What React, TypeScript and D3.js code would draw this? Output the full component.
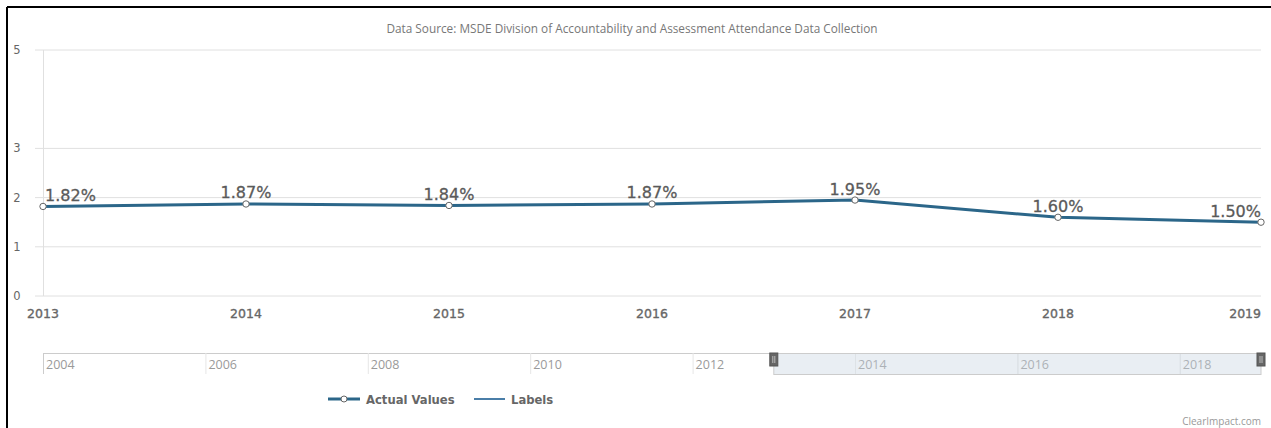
import React from "react";
import * as d3 from "d3";

const years = [2013, 2014, 2015, 2016, 2017, 2018, 2019];
const values = [1.82, 1.87, 1.84, 1.87, 1.95, 1.6, 1.5];
const valueLabels = ["1.82%", "1.87%", "1.84%", "1.87%", "1.95%", "1.60%", "1.50%"];
const yTicks = [0, 1, 2, 3, 5];
const navYears = [2004, 2006, 2008, 2010, 2012, 2014, 2016, 2018];
const navDomain = [2004, 2019];
const navSelected = [2013, 2019];
const title = "Data Source: MSDE Division of Accountability and Assessment Attendance Data Collection";
const legendItems = ["Actual Values", "Labels"];

const W = 1271;
const H = 428;
const LINE = "#2b6689";

export default function App() {
  const x = d3.scaleLinear().domain([years[0], years[years.length - 1]]).range([43, 1261]);
  const y = d3.scaleLinear().domain([0, 5]).range([296, 50]);
  const nx = d3.scaleLinear().domain(navDomain).range([43, 1261]);
  const line = d3
    .line<number>()
    .x((_, i) => x(years[i]))
    .y((d) => y(d));

  const labelFont = "'DejaVu Sans', Verdana, sans-serif";
  const narrowFont = "'Open Sans', sans-serif";

  return (
    <div style={{ position: "absolute", left: 0, top: 0 }}>
      <svg width={W} height={H} style={{ display: "block", background: "#fff" }}>
        {/* border */}
        <line x1={7} y1={7} x2={W} y2={7} stroke="#000" strokeWidth={2} />
        <line x1={7} y1={7} x2={7} y2={H} stroke="#000" strokeWidth={2} />

        <text x={632} y={33} textAnchor="middle" fontFamily={narrowFont} fontSize={11.8} fill="#777">
          {title}
        </text>

        {/* grid */}
        {yTicks.map((t) => (
          <g key={t}>
            <line x1={35} x2={1261} y1={y(t)} y2={y(t)} stroke="#e0e0e0" strokeWidth={1} />
            <text x={17} y={y(t) + 4} textAnchor="middle" fontFamily={labelFont} fontSize={11.5} fill="#666">
              {t}
            </text>
          </g>
        ))}
        <line x1={43.5} x2={43.5} y1={50} y2={296} stroke="#e0e0e0" />

        {/* x labels */}
        {years.map((yr, i) => {
          const anchor = i === years.length - 1 ? "end" : "middle";
          return (
            <text
              key={yr}
              x={i === years.length - 1 ? 1261 : x(yr)}
              y={318}
              textAnchor={anchor}
              fontFamily={labelFont}
              fontSize={12.5}
              fill="#666"
              stroke="#666"
              strokeWidth={0.35}
            >
              {yr}
            </text>
          );
        })}

        {/* line */}
        <path d={line(values) || ""} fill="none" stroke={LINE} strokeWidth={3} />
        {values.map((v, i) => (
          <circle key={i} cx={x(years[i])} cy={y(v)} r={3.2} fill="#fff" stroke="#666" strokeWidth={1} />
        ))}
        {values.map((v, i) => {
          let cx = x(years[i]);
          let anchor = "middle";
          if (i === 0) {
            cx = 45;
            anchor = "start";
          } else if (i === values.length - 1) {
            cx = 1261;
            anchor = "end";
          }
          return (
            <text
              key={i}
              x={cx}
              y={y(v) - 5.5}
              textAnchor={anchor}
              fontFamily={labelFont}
              fontSize={16}
              fill="#5a5a5a"
              stroke="#5a5a5a"
              strokeWidth={0.3}
            >
              {valueLabels[i]}
            </text>
          );
        })}

        {/* navigator */}
        <line x1={43} x2={1261} y1={353.5} y2={353.5} stroke="#ccc" />
        {navYears.map((yr) => (
          <g key={yr}>
            <line x1={nx(yr) + 0.5} x2={nx(yr) + 0.5} y1={353} y2={374} stroke="#e6e6e6" />
            <text x={nx(yr) + 3} y={369} fontFamily={narrowFont} fontSize={12.5} fill="#9a9a9a">
              {yr}
            </text>
          </g>
        ))}
        <line x1={43.5} x2={43.5} y1={353} y2={374} stroke="#ccc" />
        <rect
          x={nx(navSelected[0])}
          y={353.5}
          width={nx(navSelected[1]) - nx(navSelected[0])}
          height={21}
          fill="rgba(200,212,224,0.4)"
          stroke="#ccc"
        />
        {navYears
          .filter((yr) => yr > navSelected[0])
          .map((yr) => (
            <line key={"s" + yr} x1={nx(yr) + 0.5} x2={nx(yr) + 0.5} y1={354} y2={374} stroke="#dde2e6" />
          ))}
        {navSelected.map((yr) => (
          <g key={yr}>
            <rect x={nx(yr) - 4} y={353} width={8} height={13} fill="#666" stroke="#555" />
            <line x1={nx(yr) - 1} x2={nx(yr) - 1} y1={356} y2={363} stroke="#bbb" />
            <line x1={nx(yr) + 1} x2={nx(yr) + 1} y1={356} y2={363} stroke="#bbb" />
          </g>
        ))}

        {/* legend */}
        <line x1={328} x2={360} y1={399} y2={399} stroke={LINE} strokeWidth={3} />
        <circle cx={344} cy={399} r={3} fill="#fff" stroke="#666" />
        <text x={366} y={403.5} fontFamily={labelFont} fontWeight="bold" fontSize={11.6} fill="#666">
          {legendItems[0]}
        </text>
        <line x1={474} x2={505} y1={399} y2={399} stroke="#4a7ea8" strokeWidth={2} />
        <text x={511} y={403.5} fontFamily={labelFont} fontWeight="bold" fontSize={11.6} fill="#666">
          {legendItems[1]}
        </text>

        <text x={1261} y={425} textAnchor="end" fontFamily={narrowFont} fontSize={10} fill="#999">
          ClearImpact.com
        </text>
      </svg>
    </div>
  );
}
